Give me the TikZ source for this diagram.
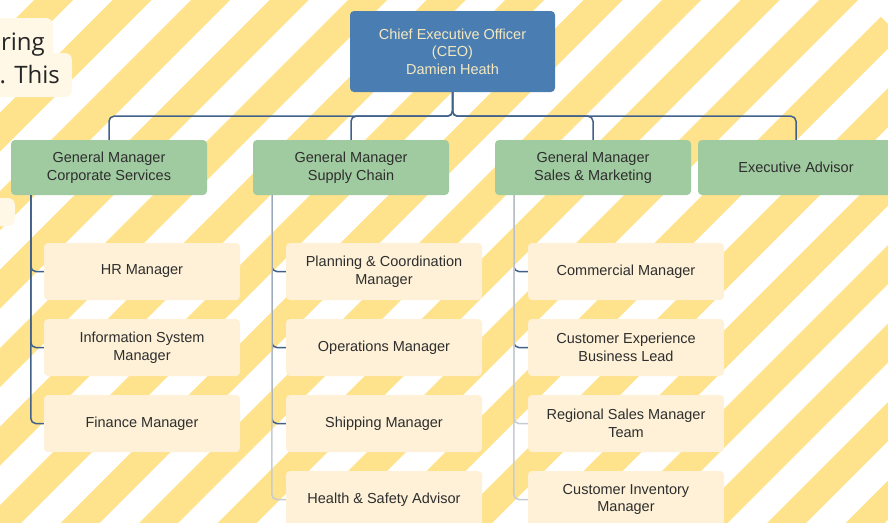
\documentclass[tikz,border=0pt]{standalone}
\usepackage{fontspec}
\setmainfont{Liberation Sans}
\newfontfamily\notefont{Open Sans}
\usetikzlibrary{calc}

\definecolor{stripe}{HTML}{FEE28C}
\definecolor{ceoblue}{HTML}{4A7EB3}
\definecolor{ceotext}{HTML}{F4E8C0}
\definecolor{gmgreen}{HTML}{A0CBA0}
\definecolor{staffcream}{HTML}{FEF1D7}
\definecolor{notecream}{HTML}{FFF8E6}
\definecolor{linkblue}{HTML}{41618A}
\definecolor{linkgray}{HTML}{C6CBD4}
\definecolor{boxtext}{HTML}{2E2E2E}

\tikzset{
  orgbox/.style={rectangle, rounded corners=4pt, inner sep=2pt, align=center,
    font=\fontsize{14.5}{17.5}\selectfont, text=boxtext},
  ceobox/.style={orgbox, fill=ceoblue, text=ceotext, minimum width=205pt, minimum height=81pt},
  gmbox/.style={orgbox, fill=gmgreen, minimum width=196pt, minimum height=55pt},
  staffbox/.style={orgbox, fill=staffcream, minimum width=196pt, minimum height=57pt},
  notebox/.style={fill=notecream, rounded corners=7pt},
  notetext/.style={font=\notefont\fontsize{24}{28}\selectfont, text=black!85, inner sep=0pt},
  link/.style={draw=linkblue, line width=1.5pt, rounded corners=5pt},
  linkfaint/.style={draw=linkgray, line width=1.5pt, rounded corners=5pt},
}

\begin{document}
\begin{tikzpicture}[x=1pt, y=-1pt]
\useasboundingbox (0,0) rectangle (888,522);
\clip (0,0) rectangle (888,522);

% diagonal stripes of the backdrop
\begin{scope}
  \clip (-10,-10) -- (854,-10) -- (900,36) -- (900,540) -- (-10,540) -- cycle;
  \foreach \k in {0,...,18} {
    \pgfmathsetmacro{\a}{34+78.5*\k}
    \fill[stripe] (\a,0) -- ({\a+39},0) -- ({\a+39-600},600) -- ({\a-600},600) -- cycle;
  }
\end{scope}

% note cards at the left edge
\fill[notebox] (-10,18) rectangle (53,60);
\fill[notebox] (-10,53) rectangle (72,97);
\fill[notebox] (-10,198) rectangle (15,226);
\node[notetext, anchor=base east] (noteA) at (45,50) {ring};
\node[notetext, anchor=base east] (noteB) at (60,83) {. This};

% executive level
\node[ceobox] (ceo) at (452.5,51.5) {Chief Executive Officer\\(CEO)\\Damien Heath};

% general managers
\node[gmbox] (gmcorp) at (109,167.5) {General Manager\\Corporate Services};
\node[gmbox] (gmsupply) at (351,167.5) {General Manager\\Supply Chain};
\node[gmbox] (gmsales) at (593,167.5) {General Manager\\Sales \& Marketing};
\node[gmbox] (advisor) at (796,167.5) {Executive Advisor};

% corporate services staff
\node[staffbox] (hr) at (142,271.5) {HR Manager};
\node[staffbox] (infosys) at (142,347.5) {Information System\\Manager};
\node[staffbox] (finance) at (142,423.5) {Finance Manager};

% supply chain staff
\node[staffbox] (planning) at (384,271.5) {Planning \& Coordination\\Manager};
\node[staffbox] (operations) at (384,347.5) {Operations Manager};
\node[staffbox] (shipping) at (384,423.5) {Shipping Manager};
\node[staffbox] (safety) at (384,499.5) {Health \& Safety Advisor};

% sales and marketing staff
\node[staffbox] (commercial) at (626,271.5) {Commercial Manager};
\node[staffbox] (custexp) at (626,347.5) {Customer Experience\\Business Lead};
\node[staffbox] (regional) at (626,423.5) {Regional Sales Manager\\Team};
\node[staffbox] (inventory) at (626,499.5) {Customer Inventory\\Manager};

% CEO to general managers
\foreach \t in {gmcorp, gmsupply, gmsales, advisor}
  \draw[link] (ceo.south) -- ++(0,24) -| (\t.north);

% general managers to their staff (solid reporting lines)
\foreach \t in {hr, infosys, finance}
  \draw[link] ([xshift=20pt]gmcorp.south west) |- (\t.west);
\foreach \t in {planning, operations, shipping}
  \draw[link] ([xshift=19pt]gmsupply.south west) |- (\t.west);
\foreach \t in {commercial, custexp}
  \draw[link] ([xshift=19pt]gmsales.south west) |- (\t.west);

% faint reporting lines
\draw[linkfaint] ([xshift=19pt]gmsupply.south west) |- (safety.west);
\foreach \t in {regional, inventory}
  \draw[linkfaint] ([xshift=19pt]gmsales.south west) |- (\t.west);
\end{tikzpicture}
\end{document}
